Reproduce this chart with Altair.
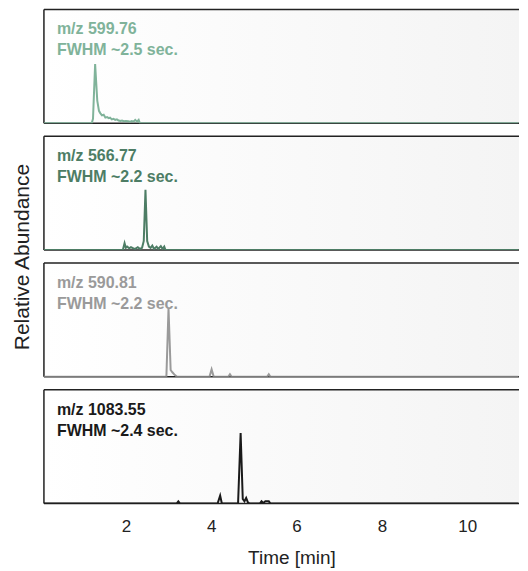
import altair as alt
import pandas as pd

FONT = "Liberation Sans"
PX_PER_MIN = 42.75
W, H = 476, 114
X_MIN = 0.08
X_MAX = X_MIN + W / PX_PER_MIN

# ---- data (time in min, intensity in % of panel height)
t1 = [0.08, 1.20, 1.23, 1.28, 1.33, 1.37, 1.40, 1.44, 1.48, 1.52, 1.56, 1.60, 1.63, 1.67,
      1.71, 1.75, 1.79, 1.83, 1.87, 1.91, 1.95, 2.00, 2.06, 2.10, 2.14, 2.18, 2.22, 2.26,
      2.30, 2.33, 11.20]
i1 = [0, 0, 4, 52, 20, 11, 9, 7, 7.5, 5, 5.5, 4.5, 5, 3.5,
      4, 3, 3.5, 2.5, 2, 2.5, 1.8, 2, 1.8, 1.5, 2, 1.5, 3, 1.5,
      3, 0, 0]

t2 = [0.08, 1.93, 1.97, 2.00, 2.03, 2.08, 2.12, 2.18, 2.22, 2.28, 2.33, 2.38, 2.42, 2.46,
      2.50, 2.54, 2.58, 2.62, 2.66, 2.72, 2.76, 2.82, 2.86, 2.90, 2.93, 11.20]
i2 = [0, 0, 6, 2, 3, 1.5, 2.5, 1.5, 1, 2.5, 1, 2, 8, 53,
      8, 3, 2, 4, 1, 3, 1, 3.5, 1, 3, 0, 0]

t3 = [0.08, 2.95, 3.00, 3.05, 3.09, 3.15, 3.20, 3.96, 4.01, 4.06, 4.40, 4.44, 4.48,
      5.31, 5.35, 5.39, 11.20]
i3 = [0, 0, 60, 6, 4, 1.5, 0, 0, 6.5, 0, 0, 2.3, 0,
      0, 2.3, 0, 0]

t4 = [0.08, 3.19, 3.23, 3.27, 4.15, 4.21, 4.25, 4.63, 4.69, 4.74, 4.78, 4.82, 4.86, 4.90,
      5.14, 5.18, 5.22, 5.27, 5.31, 5.35, 5.39, 11.20]
i4 = [0, 0, 2, 0, 0, 7, 0, 0, 62, 4, 2, 5, 1, 0,
      0, 2, 0.5, 2, 2, 2, 0, 0]

mz_labels = ["m/z 599.76", "m/z 566.77", "m/z 590.81", "m/z 1083.55"]
fwhm_labels = ["FWHM ~2.5 sec.", "FWHM ~2.2 sec.", "FWHM ~2.2 sec.", "FWHM ~2.4 sec."]
colors = ["#80b39a", "#4d7d65", "#9a9a9a", "#1a1a1a"]
x_ticks = [2, 4, 6, 8, 10]
y_title = "Relative Abundance"

series = [(t1, i1), (t2, i2), (t3, i3), (t4, i4)]
one = pd.DataFrame({"a": [0]})
BORDER = "#222222"


def panel(k, last):
    t, v = series[k]
    df = pd.DataFrame({"t": t, "v": v})
    if last:
        xaxis = alt.Axis(values=x_ticks, ticks=False, domain=False, grid=False,
                         labelFont=FONT, labelFontSize=17, labelColor="#222",
                         labelPadding=15, title="Time [min]", titleFont=FONT,
                         titleFontSize=19, titleFontWeight="normal", titleColor="#222",
                         titlePadding=14, titleX=248, titleAlign="center")
    else:
        xaxis = None
    xs = alt.Scale(domain=[X_MIN, X_MAX], nice=False, zero=False)
    ys = alt.Scale(domain=[0, 100], nice=False)

    bg = alt.Chart(one).mark_rect(
        color=alt.Gradient(gradient="linear", x1=0, x2=1, y1=0, y2=0,
                           stops=[alt.GradientStop(color="#ffffff", offset=0),
                                  alt.GradientStop(color="#f4f4f4", offset=1)])
    ).encode(x=alt.value(0), x2=alt.value("width"), y=alt.value(0), y2=alt.value("height"))

    frame_top = alt.Chart(one).mark_rule(color=BORDER, strokeWidth=1.5).encode(
        x=alt.value(0), x2=alt.value("width"), y=alt.value(0))
    frame_bottom = alt.Chart(one).mark_rule(color=BORDER, strokeWidth=1.5).encode(
        x=alt.value(0), x2=alt.value("width"), y=alt.value("height"))
    frame_left = alt.Chart(one).mark_rule(color=BORDER, strokeWidth=1.5).encode(
        x=alt.value(0), y=alt.value(0), y2=alt.value("height"))

    line = alt.Chart(df).mark_line(color=colors[k], strokeWidth=2, clip=True).encode(
        x=alt.X("t:Q", scale=xs, axis=xaxis),
        y=alt.Y("v:Q", scale=ys, axis=None),
    )

    txt = alt.Chart(pd.DataFrame({"label": [mz_labels[k] + "\n" + fwhm_labels[k]]})).mark_text(
        align="left", baseline="top", font=FONT, fontSize=16, fontWeight="bold",
        color=colors[k], lineBreak="\n", lineHeight=21
    ).encode(x=alt.value(13), y=alt.value(12), text="label:N")

    layers = [bg, frame_top, frame_bottom, frame_left, line, txt]
    if k == 1:
        ytl = alt.Chart(pd.DataFrame({"label": [y_title]})).mark_text(
            angle=270, align="center", baseline="middle", font=FONT, fontSize=21,
            color="#222"
        ).encode(x=alt.value(-21), y=alt.value(H + 7), text="label:N")
        layers.append(ytl)

    return alt.layer(*layers).properties(width=W, height=H)


chart = alt.vconcat(*[panel(k, k == 3) for k in range(4)], spacing=13,
                    bounds="flush").properties(
    padding={"left": 3, "top": 0, "right": 0, "bottom": 0},
).configure_view(stroke=None).configure_concat(spacing=13)

chart.save("out.html", embed_options={"renderer": "svg", "actions": False})
